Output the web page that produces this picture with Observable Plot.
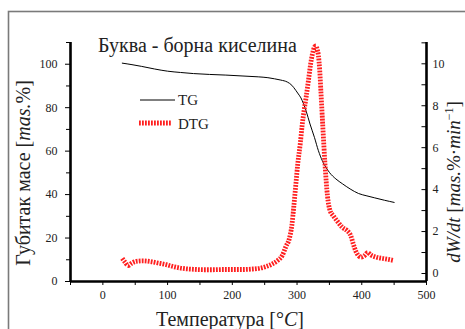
<!DOCTYPE html>
<html><head><meta charset="utf-8">
<script src="https://cdn.jsdelivr.net/npm/d3@7"></script>
<script src="https://cdn.jsdelivr.net/npm/@observablehq/plot@0.6"></script>
<style>body{margin:0;background:#fff} #chart svg{display:block} #chart svg text{font-family:'Liberation Serif','Times New Roman',serif}</style>
</head><body><div id="chart"></div>
<script>
// ---- data ----
const tgTemp = [30, 45, 60, 80, 100, 120, 140, 165, 190, 215, 240, 255, 265, 275, 285, 292, 298, 302, 306, 310, 314, 320, 327, 333, 339, 345, 350, 360, 370, 382, 395, 408, 420, 435, 450];
const tgMass = [100.5, 99.8, 99.0, 97.8, 96.8, 96.2, 95.7, 95.3, 95.0, 94.6, 94.2, 93.8, 93.3, 92.7, 91.8, 90.3, 88.0, 86.3, 84.5, 81.8, 78.5, 72.5, 66.2, 60.2, 55.6, 52.4, 50.2, 47.2, 45.0, 42.6, 40.5, 39.4, 38.5, 37.4, 36.4];
const dtgTemp = [30, 34, 39, 45, 52, 62, 73, 85, 98, 110, 124, 140, 155, 170, 185, 200, 216, 230, 242, 252, 262, 270, 277, 283, 288, 292, 295, 298, 301, 305, 308, 311, 314, 318, 321, 324, 327, 329, 331, 333, 335, 337, 340, 343, 347, 351, 356, 362, 370, 377, 383, 387, 391, 395, 399, 404, 409, 414, 420, 426, 432, 440, 448];
const dtgRate = [0.72, 0.55, 0.38, 0.5, 0.58, 0.6, 0.57, 0.5, 0.42, 0.32, 0.24, 0.2, 0.18, 0.18, 0.19, 0.19, 0.19, 0.21, 0.25, 0.33, 0.46, 0.62, 0.85, 1.3, 1.65, 2.3, 3.2, 4.2, 5.2, 6.2, 7.1, 7.8, 8.4, 9.3, 10.0, 10.5, 10.8, 10.85, 10.7, 10.4, 9.7, 8.6, 6.9, 5.3, 3.7, 3.0, 2.75, 2.5, 2.2, 2.05, 1.8, 1.4, 1.05, 0.85, 0.78, 0.85, 1.0, 0.88, 0.8, 0.75, 0.72, 0.68, 0.63];
const xTicks = [0, 100, 200, 300, 400, 500];
const xMinorTicks = [-50, 50, 150, 250, 350, 450];
const leftTicks = [0, 20, 40, 60, 80, 100];
const leftMinorTicks = [10, 30, 50, 70, 90, 110];
const rightTicks = [0, 2, 4, 6, 8, 10];
const rightMinorTicks = [1, 3, 5, 7, 9, 11];
const seriesNames = ["TG", "DTG"];
const titleText = "Буква - борна киселина";

// ---- layout ----
const W = 465, H = 329;
const font = "'Liberation Serif', 'Times New Roman', serif";
const dtgColor = "#ff1f1f";
const dtgDash = "1.8,1.2";
// right (DTG) axis is mapped onto the left y scale domain
const rightToLeft = d3.scaleLinear().domain([-0.3815, 11.016]).range([0, 110]);
const tg = tgTemp.map((t, i) => ({t, v: tgMass[i]}));
const dtg = dtgTemp.map((t, i) => ({t, v: rightToLeft(dtgRate[i])}));
const rAll = rightTicks.concat(rightMinorTicks).map(d => rightToLeft(d));

const plot = Plot.plot({
  width: W, height: H,
  marginLeft: 70, marginRight: 39, marginTop: 42, marginBottom: 48,
  style: {fontFamily: font, fontSize: "12px", color: "#222", background: "transparent", overflow: "visible"},
  x: {domain: [-50, 500]},
  y: {domain: [0, 110]},
  marks: [
    Plot.axisX(xMinorTicks, {tickSize: 4, tickFormat: () => "", label: null, stroke: "#000"}),
    Plot.axisX(xTicks, {tickSize: 4, tickPadding: 5, label: null, stroke: "#000", fill: "#222", fontFamily: font, fontSize: 12}),
    Plot.axisY(leftMinorTicks, {anchor: "left", tickSize: 4, tickFormat: () => "", label: null, stroke: "#000"}),
    Plot.axisY(leftTicks, {anchor: "left", tickSize: 5, tickPadding: 8, label: null, stroke: "#000", fill: "#222", fontFamily: font, fontSize: 12}),
    Plot.axisY(rightTicks.map(d => rightToLeft(d)), {anchor: "right", tickSize: 0, tickPadding: 6, label: null, fill: "#222", fontFamily: font, fontSize: 12,
      tickFormat: v => String(Math.round(rightToLeft.invert(v)))}),
    Plot.ruleY(rAll, {x1: 493, x2: 500, stroke: "#000", strokeWidth: 1}),
    Plot.line(tg, {x: "t", y: "v", stroke: "#000", strokeWidth: 1, curve: "monotone-x"}),
    Plot.line(dtg, {x: "t", y: "v", stroke: dtgColor, strokeWidth: 4.8, strokeDasharray: dtgDash, strokeLinecap: "butt", strokeLinejoin: "miter", curve: "monotone-x"}),
    Plot.ruleX([-50], {stroke: "#000", strokeWidth: 2.6}),
    Plot.ruleX([500], {stroke: "#000", strokeWidth: 2.6}),
    Plot.ruleY([0], {stroke: "#000", strokeWidth: 2.6})
  ]
});

const svg = d3.select(plot);
// outer frame
svg.insert("rect", ":first-child")
  .attr("x", 8.5).attr("y", 11.5).attr("width", 520).attr("height", 400)
  .attr("fill", "none").attr("stroke", "#7a7a7a").attr("stroke-width", 1.6);

const txt = (x, y, size) => svg.append("text").attr("x", x).attr("y", y)
  .attr("text-anchor", "start").attr("font-family", font).attr("font-size", size).attr("fill", "#222");

// title
txt(98, 52, 20).text(titleText);

// legend
svg.append("line").attr("x1", 140).attr("x2", 175).attr("y1", 100).attr("y2", 100)
  .attr("stroke", "#000").attr("stroke-width", 1);
txt(178, 105, 15).text(seriesNames[0]);
svg.append("line").attr("x1", 139).attr("x2", 171).attr("y1", 123).attr("y2", 123)
  .attr("stroke", dtgColor).attr("stroke-width", 4.8).attr("stroke-dasharray", dtgDash).attr("stroke-linecap", "butt");
txt(178, 128.5, 15).text(seriesNames[1]);

// x label
const xl = txt(230, 326, 20).attr("text-anchor", "middle");
xl.append("tspan").text("Температура [°");
xl.append("tspan").attr("font-style", "italic").text("C");
xl.append("tspan").text("]");

// left y label
const yl = svg.append("text").attr("transform", "translate(30,173) rotate(-90)").attr("text-anchor", "middle")
  .attr("font-family", font).attr("font-size", 20).attr("fill", "#222");
yl.append("tspan").text("Губитак масе [");
yl.append("tspan").attr("font-style", "italic").text("mas.");
yl.append("tspan").text("%]");

// right y label
const yr = svg.append("text").attr("transform", "translate(460,182) rotate(-90)").attr("text-anchor", "middle")
  .attr("font-family", font).attr("font-size", 19).attr("fill", "#222");
yr.append("tspan").attr("font-style", "italic").text("dW/dt");
yr.append("tspan").text(" [");
yr.append("tspan").attr("font-style", "italic").text("mas.");
yr.append("tspan").text("%·");
yr.append("tspan").attr("font-style", "italic").text("min");
yr.append("tspan").attr("font-size", 12).attr("dy", -7).text("−1");
yr.append("tspan").attr("dy", 7).text("]");

document.getElementById("chart").appendChild(plot);
</script>
</body></html>
